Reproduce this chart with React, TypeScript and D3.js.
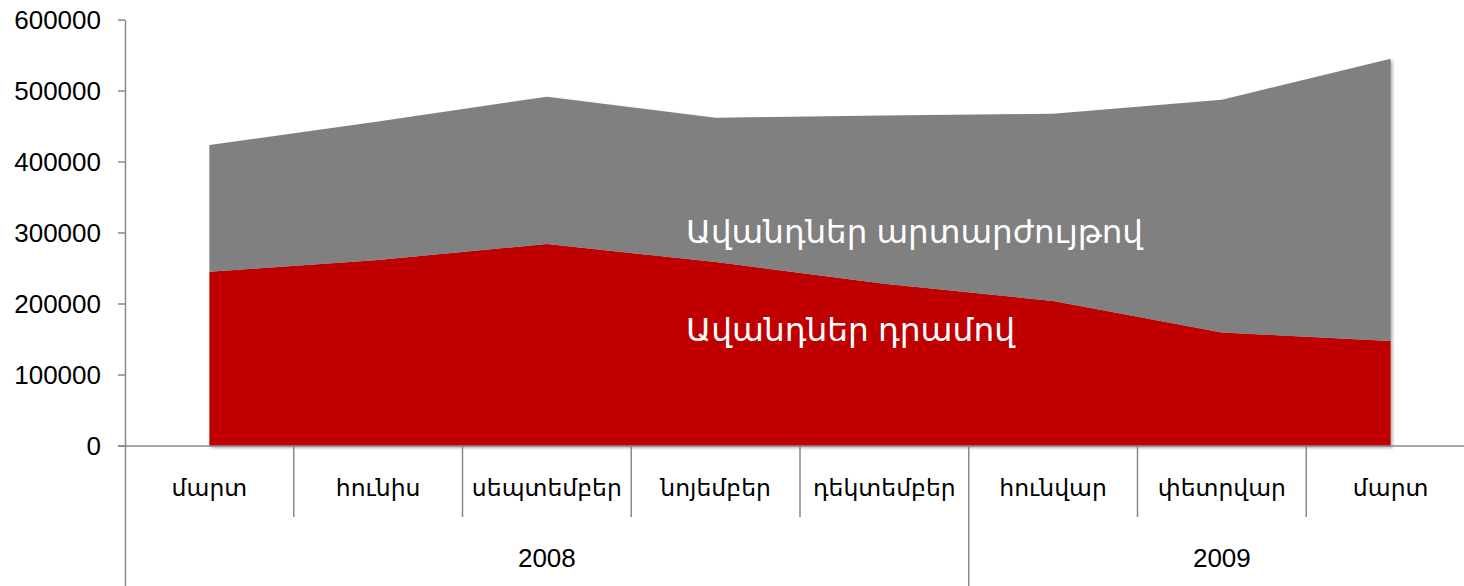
import React from "react";
import * as d3 from "d3";

const months = ["մարտ", "հունիս", "սեպտեմբեր", "նոյեմբեր", "դեկտեմբեր", "հունվար", "փետրվար", "մարտ"];
const years = [
  { label: "2008", start: 0, end: 5 },
  { label: "2009", start: 5, end: 8 },
];
const dramDeposits = [245500, 262000, 284500, 259000, 228500, 204200, 159700, 147900];
const fxDeposits = [178400, 195000, 207500, 203400, 237000, 263800, 327900, 397600];
const yTicks = [0, 100000, 200000, 300000, 400000, 500000, 600000];
const seriesLabels = ["Ավանդներ դրամով", "Ավանդներ արտարժույթով"];
const colors = ["#C00000", "#808080"];

const W = 1464;
const H = 586;
const plotLeft = 125;
const plotRight = 1475;
const plotTop = 20;
const plotBottom = 446;

export default function App() {
  const x = d3.scaleBand<number>().domain(d3.range(months.length)).range([plotLeft, plotRight]).padding(0);
  const bw = x.bandwidth();
  const cx = (i: number) => (x(i) as number) + bw / 2;
  const y = d3.scaleLinear().domain([0, 600000]).range([plotBottom, plotTop]);

  const rows = months.map((m, i) => ({ i, dram: dramDeposits[i], fx: fxDeposits[i] }));
  const stack = d3.stack<any>().keys(["dram", "fx"]);
  const layers = stack(rows);
  const area = d3
    .area<any>()
    .x((d) => cx(d.data.i))
    .y0((d) => y(d[0]))
    .y1((d) => y(d[1]));

  const font = "'Liberation Sans', Arial, 'DejaVu Sans', sans-serif";
  const axisColor = "#898989";

  return (
    <svg width={W} height={H} style={{ position: "absolute", left: 0, top: 0 }} fontFamily={font}>
      <defs>
        <filter id="shadow" x="-5%" y="-5%" width="110%" height="110%">
          <feDropShadow dx="2" dy="2" stdDeviation="1.5" floodColor="#000" floodOpacity="0.3" />
        </filter>
      </defs>
      <rect width={W} height={H} fill="#fff" />
      <g filter="url(#shadow)">
        {layers.map((layer, k) => (
          <path key={k} d={area(layer as any) || ""} fill={colors[k]} />
        ))}
      </g>
      {/* series labels */}
      <text x={686} y={243} fill="#fff" fontSize={32} textLength={457} lengthAdjust="spacingAndGlyphs">
        {seriesLabels[1]}
      </text>
      <text x={686} y={341} fill="#fff" fontSize={32} textLength={329} lengthAdjust="spacingAndGlyphs">
        {seriesLabels[0]}
      </text>
      {/* y axis */}
      <line x1={plotLeft + 0.5} x2={plotLeft + 0.5} y1={plotTop} y2={H} stroke={axisColor} strokeWidth={1.5} />
      {yTicks.map((t) => (
        <g key={t}>
          <line x1={118} x2={plotLeft} y1={y(t)} y2={y(t)} stroke={axisColor} strokeWidth={1.5} />
          <text x={101} y={y(t)} dy="0.36em" textAnchor="end" fontSize={26} fill="#000">
            {t}
          </text>
        </g>
      ))}
      {/* x axis */}
      <line x1={118} x2={plotRight} y1={plotBottom} y2={plotBottom} stroke={axisColor} strokeWidth={1.5} />
      {months.map((m, i) =>
        i > 0 ? (
          <line
            key={"sep" + i}
            x1={x(i) as number}
            x2={x(i) as number}
            y1={plotBottom}
            y2={years.some((yr) => yr.start === i) ? H : 517}
            stroke={axisColor}
            strokeWidth={1.5}
          />
        ) : null
      )}
      {months.map((m, i) => (
        <text key={"m" + i} x={cx(i)} y={496} textAnchor="middle" fontSize={23.5} fill="#000" fontFamily="'DejaVu Sans', sans-serif">
          {m}
        </text>
      ))}
      {years.map((yr) => (
        <text
          key={yr.label}
          x={((x(yr.start) as number) + (x(yr.end - 1) as number) + bw) / 2}
          y={567}
          textAnchor="middle"
          fontSize={26}
          fill="#000"
        >
          {yr.label}
        </text>
      ))}
    </svg>
  );
}
